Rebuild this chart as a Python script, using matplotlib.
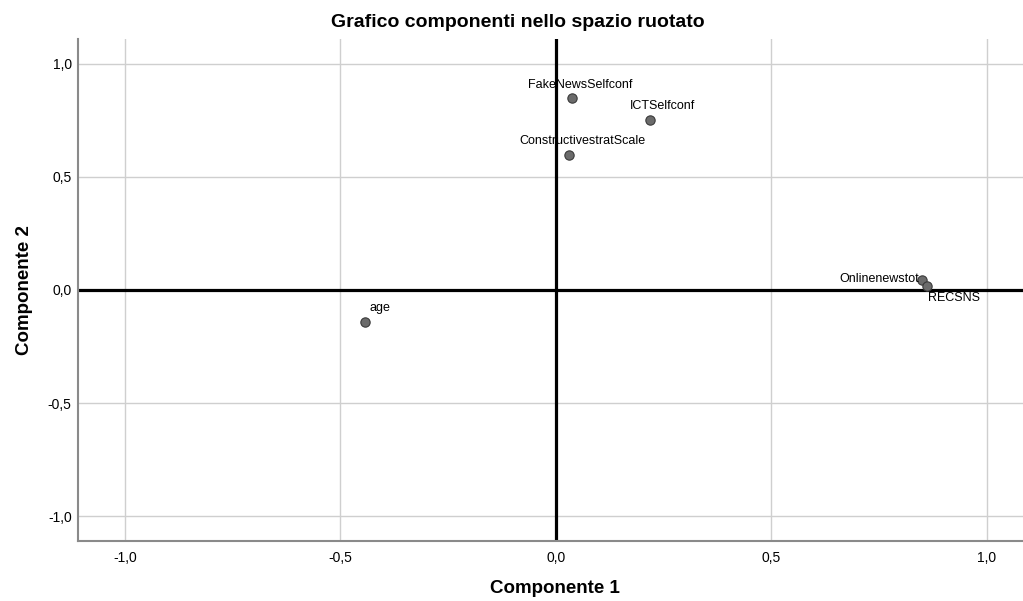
import matplotlib
matplotlib.use("Agg")
from matplotlib import pyplot as plt
from matplotlib.ticker import FuncFormatter

plt.rcParams['font.family'] = ['Liberation Sans', 'DejaVu Sans']

names = ['FakeNewsSelfconf', 'ICTSelfconf', 'ConstructivestratScale',
         'Onlinenewstot', 'RECSNS', 'age']
comp1 = [0.037, 0.218, 0.030, 0.849, 0.861, -0.443]
comp2 = [0.850, 0.752, 0.597, 0.044, 0.018, -0.142]

# label offsets in points, and alignment
label_pos = {
    'FakeNewsSelfconf': ((6, 9), 'center'),
    'ICTSelfconf': ((9, 10), 'center'),
    'ConstructivestratScale': ((10, 10), 'center'),
    'Onlinenewstot': ((-2, 1), 'right'),
    'RECSNS': ((1, -9), 'left'),
    'age': ((3, 10), 'left'),
}

fig = plt.figure(figsize=(10.23, 6.01), dpi=100)
ax = fig.add_axes([0.0762, 0.0998, 0.9238, 0.8354])

ax.set_xlim(-1.109, 1.0835)
ax.set_ylim(-1.1106, 1.1106)
ticks = [-1.0, -0.5, 0.0, 0.5, 1.0]
ax.set_xticks(ticks)
ax.set_yticks(ticks)
fmt = FuncFormatter(lambda v, p: ('%.1f' % v).replace('.', ','))
ax.xaxis.set_major_formatter(fmt)
ax.yaxis.set_major_formatter(fmt)
ax.tick_params(length=0, labelsize=10, colors='black')
ax.tick_params(axis='x', pad=7.5)
ax.tick_params(axis='y', pad=4.5)

ax.grid(True, color='#cfcfcf', linewidth=1.0)
ax.set_axisbelow(True)
for s in ['top', 'right']:
    ax.spines[s].set_visible(False)
for s in ['left', 'bottom']:
    ax.spines[s].set_color('#8a8a8a')
    ax.spines[s].set_linewidth(1.5)

ax.axhline(0, color='black', linewidth=2.3, zorder=2)
ax.axvline(0, color='black', linewidth=2.3, zorder=2)

ax.scatter(comp1, comp2, s=45, color='#6b6b6b', edgecolors='#3a3a3a',
           linewidths=0.8, zorder=3)

for n, x, y in zip(names, comp1, comp2):
    off, ha = label_pos[n]
    ax.annotate(n, (x, y), xytext=off, textcoords='offset points',
                ha=ha, va='center', fontsize=9, zorder=4)

fig.text(0.5064, 0.962, 'Grafico componenti nello spazio ruotato',
         ha='center', va='center', fontsize=14, fontweight='bold')
fig.text(0.5425, 0.02, 'Componente 1', ha='center', va='center',
         fontsize=13.5, fontweight='bold')
fig.text(0.0235, 0.517, 'Componente 2', ha='center', va='center',
         fontsize=13.5, fontweight='bold', rotation=90)

fig.savefig('out.png', dpi=100)
